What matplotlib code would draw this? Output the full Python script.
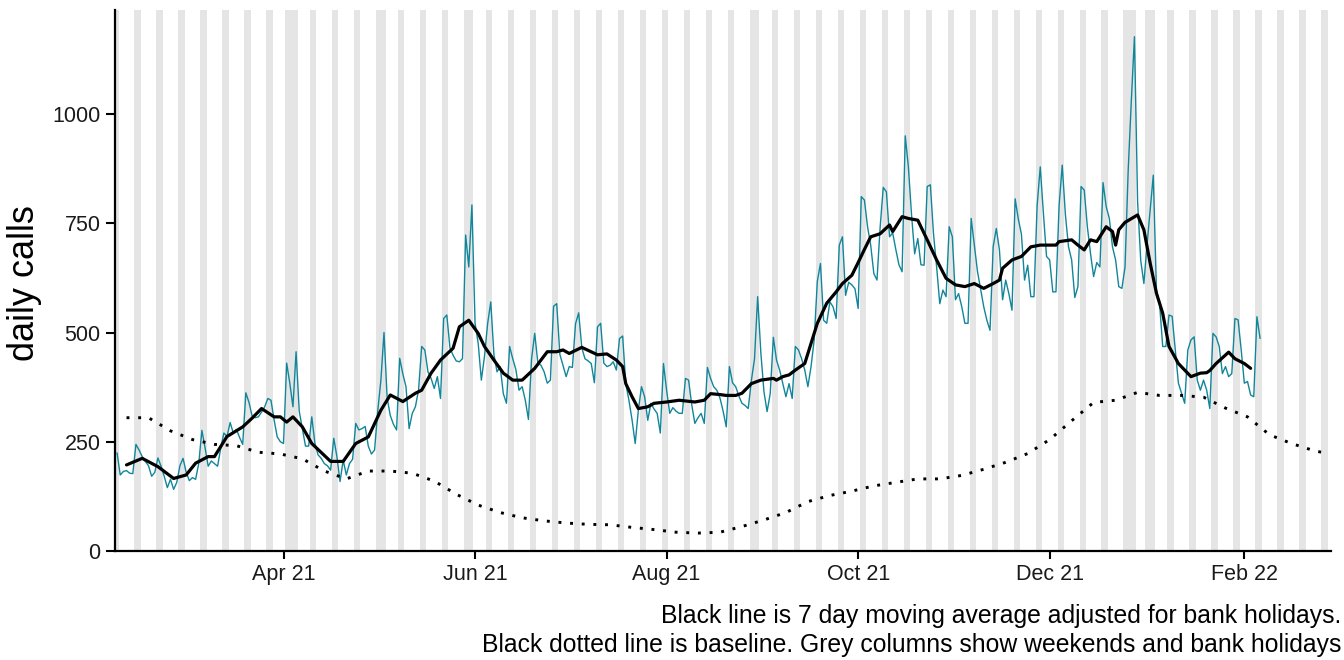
import numpy as np
import pandas as pd
import matplotlib
matplotlib.use("Agg")
import matplotlib.pyplot as plt
import matplotlib.dates as mdates

# ---------------- data ----------------
start_date = "2021-02-07"
daily_calls = [
    224,
    174, 182, 184, 178, 177, 244, 231,
    216, 205, 195, 171, 180, 213, 194,
    171, 145, 164, 141, 157, 195, 212,
    180, 161, 168, 164, 200, 276, 237,
    194, 206, 200, 194, 235, 270, 262,
    294, 270, 278, 260, 244, 362, 340,
    309, 305, 307, 318, 330, 349, 345,
    300, 261, 250, 246, 430, 384, 330,
    456, 320, 280, 240, 240, 307, 246,
    220, 212, 200, 195, 185, 258, 216,
    159, 208, 174, 200, 210, 292, 277,
    280, 285, 240, 222, 231, 320, 390,
    500, 350, 310, 290, 277, 441, 405,
    376, 280, 315, 330, 368, 468, 460,
    410, 395, 372, 399, 349, 532, 540,
    465, 448, 435, 433, 440, 723, 650,
    792, 521, 475, 391, 445, 520, 570,
    450, 410, 422, 360, 338, 468, 440,
    415, 368, 376, 345, 301, 440, 498,
    430, 425, 410, 384, 391, 560, 566,
    450, 425, 399, 422, 420, 520, 545,
    465, 440, 435, 429, 385, 513, 521,
    430, 422, 425, 433, 414, 486, 492,
    383, 345, 300, 246, 322, 376, 353,
    299, 338, 325, 315, 270, 429, 368,
    315, 328, 320, 315, 315, 395, 391,
    335, 292, 305, 315, 292, 420, 395,
    376, 368, 350, 320, 284, 422, 385,
    376, 355, 338, 333, 326, 390, 440,
    582, 455, 365, 319, 360, 489, 437,
    414, 383, 353, 383, 349, 468, 460,
    440, 414, 376, 422, 483, 617, 658,
    528, 521, 570, 559, 532, 700, 719,
    585, 615, 609, 600, 555, 811, 803,
    742, 700, 635, 620, 740, 832, 822,
    719, 728, 690, 655, 639, 950, 879,
    770, 680, 715, 655, 654, 834, 838,
    726, 650, 566, 597, 582, 742, 719,
    575, 589, 559, 521, 521, 761, 700,
    640, 600, 559, 528, 505, 696, 738,
    689, 575, 620, 589, 551, 806, 760,
    725, 620, 654, 582, 582, 790, 879,
    773, 674, 666, 593, 593, 790, 883,
    770, 696, 666, 580, 605, 834, 826,
    742, 681, 628, 660, 650, 843, 788,
    761, 696, 666, 605, 601, 650, 870,
    1030, 1177, 800, 665, 612, 700, 780,
    860, 597, 566, 468, 468, 540, 537,
    460, 384, 361, 338, 460, 483, 490,
    391, 368, 391, 368, 326, 498, 490,
    468, 406, 422, 399, 406, 532, 529,
    460, 384, 388, 357, 353, 536, 487,
]

# 7-day moving average (adjusted for bank holidays):
# day offset from start_date, value
ma_day = [3, 8, 13, 18, 22, 25, 29, 31, 35, 40, 43, 46, 50, 52, 54, 56, 59,
          62, 68, 72, 76, 80, 84, 87, 91, 95, 97, 100, 103, 107, 109, 112, 115,
          117, 120, 123, 126, 129, 133, 137, 140, 142, 144, 148, 153, 156, 159,
          161, 162, 164, 166, 169, 171, 175, 179, 184, 187, 189, 192, 194, 197,
          199, 202, 205, 209, 210, 212, 214, 216, 219, 221, 223, 226, 229, 231,
          234, 236, 238, 240, 243, 246, 247, 250, 252, 255, 258, 261, 264, 267,
          270, 273, 276, 279, 281, 282, 285, 288, 291, 294, 299, 300, 304, 306,
          308, 310, 312, 315, 317, 318, 319, 321, 325, 327, 329, 331, 333, 335,
          338, 342, 345, 347, 348, 350, 354, 356, 359, 361]
ma_value = [197, 212, 193, 166, 174, 201, 216, 216, 262, 284, 304, 326, 307,
            307, 295, 307, 284, 246, 205, 205, 246, 261, 322, 357, 342, 361,
            368, 407, 437, 464, 513, 528, 498, 468, 437, 407, 391, 391, 418,
            456, 456, 460, 452, 466, 449, 451, 437, 422, 383, 353, 326, 330,
            338, 341, 345, 341, 345, 360, 358, 356, 356, 361, 383, 391, 395,
            391, 399, 403, 414, 429, 475, 521, 567, 593, 612, 631, 660, 690,
            719, 726, 746, 731, 765, 761, 757, 712, 666, 624, 609, 605, 612,
            601, 612, 620, 647, 666, 674, 696, 700, 700, 708, 712, 700, 689,
            712, 708, 742, 731, 700, 735, 752, 769, 735, 659, 590, 544, 468,
            429, 399, 407, 408, 413, 429, 455, 440, 429, 418]

baseline_start = "2021-02-10"
baseline_end = "2022-02-28"
baseline_values = [
    305, 305, 275, 255, 244, 241, 226, 222, 211, 183, 165, 183, 183, 178,
    160, 130, 105, 88, 76, 69, 64, 61, 60, 54, 49, 43, 41, 43, 56, 71,
    88, 113, 127, 137, 149, 157, 165, 165, 173, 187, 203, 223, 255, 298,
    340, 345, 363, 356, 356, 352, 327, 307, 266, 246, 230, 222,
]

bank_holidays = ["2021-04-02", "2021-04-05", "2021-05-03", "2021-05-31",
                 "2021-08-30", "2021-12-27", "2021-12-28", "2022-01-03"]
column_start = "2021-02-07"
column_end = "2022-02-28"

x_tick_dates = ["2021-04-01", "2021-06-01", "2021-08-01",
                "2021-10-01", "2021-12-01", "2022-02-01"]
x_tick_labels = ["Apr 21", "Jun 21", "Aug 21", "Oct 21", "Dec 21", "Feb 22"]
y_ticks = [0, 250, 500, 750, 1000]

caption_lines = ["Black line is 7 day moving average adjusted for bank holidays.",
                 "Black dotted line is baseline. Grey columns show weekends and bank holidays"]
y_label = "daily calls"

# ---------------- figure ----------------
plt.rcParams['font.family'] = ['Liberation Sans', 'DejaVu Sans']

W, H = 1344, 660
fig = plt.figure(figsize=(W / 100, H / 100), dpi=100)
ax_left, ax_right, ax_top, ax_bottom = 115, 1330.7, 10, 551
ax = fig.add_axes([ax_left / W, 1 - ax_bottom / H,
                   (ax_right - ax_left) / W, (ax_bottom - ax_top) / H])

t0 = pd.Timestamp(start_date)
dates = pd.date_range(start_date, periods=len(daily_calls), freq="D")
ma_dates = t0 + pd.to_timedelta(ma_day, unit="D")

b_dates = pd.date_range(baseline_start, periods=len(baseline_values) - 1, freq="7D")
b_dates = b_dates.append(pd.DatetimeIndex([baseline_end]))

# grey columns (weekends + bank holidays)
hol = set(pd.to_datetime(bank_holidays))
for d in pd.date_range(column_start, column_end, freq="D"):
    if d.dayofweek >= 5 or d in hol:
        c = mdates.date2num(d)
        ax.axvspan(c - 0.5, c + 0.5, color="#e5e5e5", lw=0, zorder=0)

ax.plot(dates, daily_calls, color="#11869b", lw=1.0, zorder=2)
ax.plot(b_dates, baseline_values, color="black", lw=2.1,
        linestyle=(0, (1, 3)), dash_capstyle="butt", zorder=3)
ax.plot(ma_dates, ma_value, color="black", lw=2.3, zorder=4,
        solid_joinstyle="round", solid_capstyle="round")

x0 = mdates.date2num(t0)
ax.set_xlim(x0 - 0.67, x0 + 386.5)
ax.set_ylim(0, 1238)

ax.set_xticks(pd.to_datetime(x_tick_dates))
ax.set_xticklabels(x_tick_labels)
ax.set_yticks(y_ticks)
ax.set_yticklabels([str(v) for v in y_ticks])

for side in ["top", "right"]:
    ax.spines[side].set_visible(False)
for side in ["left", "bottom"]:
    ax.spines[side].set_linewidth(1.6)
    ax.spines[side].set_color("black")

ax.tick_params(axis="y", length=6.5, width=1.5, labelsize=15.5, pad=4,
               colors="black", labelcolor="#1a1a1a")
ax.tick_params(axis="x", length=5.5, width=1.5, labelsize=15.5, pad=4,
               colors="black", labelcolor="#1a1a1a")
ax.set_facecolor("white")

fig.text(25 / W, 1 - 283 / H, y_label, rotation=90, ha="center", va="center",
         fontsize=26, color="black")
fig.text(1341 / W, 1 - 623 / H, caption_lines[0], ha="right", va="baseline",
         fontsize=17.8, color="black")
fig.text(1341 / W, 1 - 652 / H, caption_lines[1], ha="right", va="baseline",
         fontsize=17.8, color="black")

fig.savefig("out.png", dpi=100, facecolor="white")
